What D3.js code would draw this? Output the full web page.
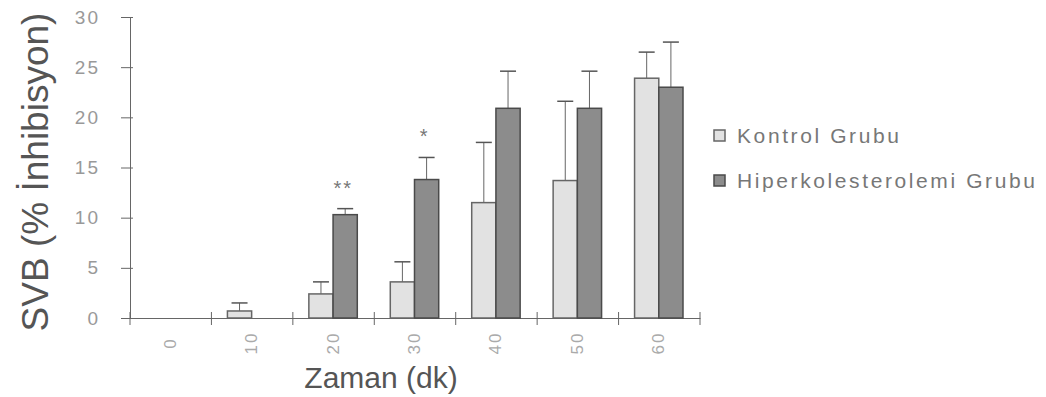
<!DOCTYPE html>
<html>
<head>
<meta charset="utf-8">
<script src="https://cdn.jsdelivr.net/npm/d3@7"></script>
<style>
  body { margin: 0; background: #fff; }
  text { font-family: "Liberation Sans", Arial, sans-serif; }
</style>
</head>
<body>
<svg width="1046" height="397"></svg>
<script>
var categories = ["0", "10", "20", "30", "40", "50", "60"];
var seriesNames = ["Kontrol Grubu", "Hiperkolesterolemi Grubu"];
var kontrol = [0, 0.7, 2.4, 3.6, 11.5, 13.7, 23.9];
var kontrolSd = [0, 0.8, 1.2, 2.0, 6.0, 7.9, 2.6];
var hiper = [0, 0, 10.3, 13.8, 20.9, 20.9, 23.0];
var hiperSd = [0, 0, 0.6, 2.2, 3.7, 3.7, 4.5];
var stars = ["", "", "**", "*", "", "", ""];
var yTicks = [0, 5, 10, 15, 20, 25, 30];

var svg = d3.select("svg");
var fills = ["#e2e2e2", "#8c8c8c"];
var strokes = ["#666", "#4a4a4a"];

var x0 = d3.scaleBand().domain(categories).range([130, 700]);
var x1 = d3.scaleBand().domain(seriesNames).range([16, x0.bandwidth() - 17]);
var y = d3.scaleLinear().domain([0, 30]).range([318, 17]);

var rows = categories.map(function(c, i) {
    return {
        cat: c,
        vals: [
            {s: seriesNames[0], v: kontrol[i], sd: kontrolSd[i], k: 0},
            {s: seriesNames[1], v: hiper[i], sd: hiperSd[i], k: 1}
        ],
        star: stars[i]
    };
});

// axes
var yAxis = svg.append("g").attr("transform", "translate(130,0)")
    .call(d3.axisLeft(y).tickValues(yTicks).tickSize(8).tickPadding(22));
yAxis.selectAll(".tick line").attr("x2", -9).attr("x1", 3);
yAxis.selectAll("text").attr("font-size", 19).attr("fill", "#999")
    .style("letter-spacing", "2px");

svg.append("g").attr("transform", "translate(0,318)")
    .call(d3.axisBottom(x0).tickSize(0).tickFormat(""));

svg.append("g").selectAll("line")
    .data(d3.range(categories.length + 1))
    .enter().append("line")
    .attr("x1", function(i) { return 130 + i * x0.step(); })
    .attr("x2", function(i) { return 130 + i * x0.step(); })
    .attr("y1", 312).attr("y2", 325)
    .attr("stroke", "#666");

svg.selectAll(".domain").attr("stroke", "#666");
svg.selectAll(".tick line").attr("stroke", "#666");

svg.append("g").selectAll("text")
    .data(categories)
    .enter().append("text")
    .attr("transform", function(d) {
        return "translate(" + (x0(d) + x0.bandwidth() / 2 + 5) + ",343) rotate(-90)";
    })
    .attr("text-anchor", "middle")
    .attr("font-size", 17)
    .attr("fill", "#aaa")
    .style("letter-spacing", "2px")
    .text(function(d) { return d; });

// bars
var groups = svg.append("g").selectAll("g")
    .data(rows)
    .enter().append("g")
    .attr("transform", function(d) { return "translate(" + x0(d.cat) + ",0)"; });

var bars = groups.selectAll("g")
    .data(function(d) { return d.vals.filter(function(e) { return e.v > 0; }); })
    .enter().append("g");

bars.append("line")
    .attr("x1", function(d) { return x1(d.s) + x1.bandwidth() / 2; })
    .attr("x2", function(d) { return x1(d.s) + x1.bandwidth() / 2; })
    .attr("y1", function(d) { return y(d.v); })
    .attr("y2", function(d) { return y(d.v + d.sd); })
    .attr("stroke", "#666");

bars.append("line")
    .attr("x1", function(d) { return x1(d.s) + x1.bandwidth() / 2 - 8; })
    .attr("x2", function(d) { return x1(d.s) + x1.bandwidth() / 2 + 8; })
    .attr("y1", function(d) { return y(d.v + d.sd); })
    .attr("y2", function(d) { return y(d.v + d.sd); })
    .attr("stroke", "#555")
    .attr("stroke-width", 1.5);

bars.append("rect")
    .attr("x", function(d) { return x1(d.s); })
    .attr("width", x1.bandwidth())
    .attr("y", function(d) { return y(d.v); })
    .attr("height", function(d) { return y(0) - y(d.v); })
    .attr("fill", function(d) { return fills[d.k]; })
    .attr("stroke", function(d) { return strokes[d.k]; })
    .attr("stroke-width", 1.5);

groups.append("text")
    .attr("x", x1(seriesNames[1]) + x1.bandwidth() / 2 - 2)
    .attr("y", function(d) {
        var h = d.vals[1];
        return y(h.v + h.sd) - 14;
    })
    .attr("text-anchor", "middle")
    .attr("font-size", 20)
    .attr("fill", "#777")
    .style("letter-spacing", "2px")
    .text(function(d) { return d.star; });

// titles
svg.append("text")
    .attr("transform", "translate(48,172) rotate(-90)")
    .attr("text-anchor", "middle")
    .attr("font-size", 37)
    .attr("fill", "#555")
    .text("SVB (% İnhibisyon)");

svg.append("text")
    .attr("x", 381).attr("y", 388)
    .attr("text-anchor", "middle")
    .attr("font-size", 30)
    .attr("fill", "#555")
    .text("Zaman (dk)");

// legend
var legend = svg.append("g").selectAll("g")
    .data(seriesNames)
    .enter().append("g")
    .attr("transform", function(d, i) { return "translate(714," + (130 + i * 45) + ")"; });

legend.append("rect")
    .attr("width", 11).attr("height", 11)
    .attr("fill", function(d, i) { return fills[i]; })
    .attr("stroke", function(d, i) { return strokes[i]; })
    .attr("stroke-width", 1.5);

legend.append("text")
    .attr("x", 23).attr("y", 13)
    .attr("font-size", 21)
    .attr("fill", "#777")
    .style("letter-spacing", "2.6px")
    .text(function(d) { return d; });
</script>
</body>
</html>
